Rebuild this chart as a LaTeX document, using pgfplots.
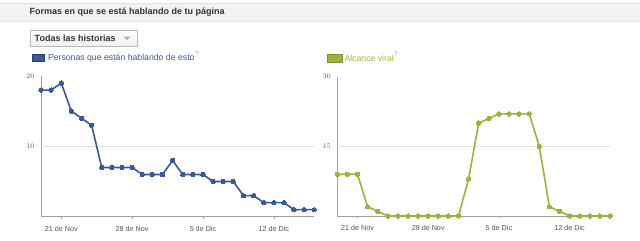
\documentclass[border=0pt]{standalone}
\usepackage{pgfplots}
\pgfplotsset{compat=1.18}
\usepackage{fontspec}
\setmainfont{Liberation Sans}
\definecolor{fbblue}{HTML}{3B5998}
\definecolor{fbgreen}{HTML}{9BB43F}
\definecolor{txtgray}{HTML}{333333}
\definecolor{tickgray}{HTML}{555555}
\definecolor{axgray}{HTML}{A0A0A0}
\definecolor{gridgray}{HTML}{E2E2E2}
\definecolor{bandgray}{HTML}{F2F2F2}
\pgfplotstableread{
x y
0 18
1 18
2 19
3 15
4 14
5 13
6 7
7 7
8 7
9 7
10 6
11 6
12 6
13 8
14 6
15 6
16 6
17 5
18 5
19 5
20 3
21 3
22 2
23 2
24 2
25 1
26 1
27 1
}\personas
\pgfplotstableread{
x y
0 9
1 9
2 9
3 2
4 1
5 0
6 0
7 0
8 0
9 0
10 0
11 0
12 0
13 8
14 20
15 21
16 22
17 22
18 22
19 22
20 15
21 2
22 1
23 0
24 0
25 0
26 0
27 0
}\alcance
\pgfplotsset{
  fbaxis/.style={
    scale only axis, clip=false,
    xmin=0, xmax=27, ymin=0,
    axis lines*=left,
    axis line style={axgray, line width=0.8pt},
    xtick={2,9,16,23},
    xticklabels={21 de Nov,28 de Nov,5 de Dic,12 de Dic},
    x tick label style={font=\fontsize{7.2}{8}\selectfont, text=tickgray, yshift=-4pt},
    y tick label style={font=\fontsize{7}{8}\selectfont, text=tickgray, xshift=-1pt},
    xtick style={draw=axgray, line width=0.6pt},
    tick align=outside, major tick length=2pt,
    ytick style={draw=none},
    extra y tick style={grid=major, major grid style={gridgray, line width=0.8pt}},
  }
}
\begin{document}
\begin{tikzpicture}[x=1pt,y=1pt]
\useasboundingbox[fill=white] (0,0) rectangle (640,241);
% header band
\fill[bandgray] (0,220) rectangle (640,238);
\draw[gray!25, line width=0.6pt] (0,238) -- (640,238);
\draw[gray!18, line width=0.6pt] (0,220) -- (640,220);
\node[anchor=west, inner sep=0, text=txtgray, font=\fontsize{9}{11}\selectfont\bfseries] at (29.5,228.5) {Formas en que se está hablando de tu página};
% dropdown button
\shade[top color=white, bottom color=gray!12] (30,194.3) rectangle (137,211);
\draw[gray!55, line width=0.7pt] (30,194.3) rectangle (137,211);
\node[anchor=west, inner sep=0, text=txtgray, font=\fontsize{9}{11}\selectfont\bfseries] at (34.5,202.5) {Todas las historias};
\fill[gray!60] (123.5,204.3) -- (130.5,204.3) -- (127,200.8) -- cycle;
% legends
\fill[fbblue] (32.3,179.3) rectangle (44.3,186.7);
\draw[fbblue!70!black, line width=0.4pt] (32.3,179.3) rectangle (44.3,186.7);
\node[anchor=west, inner sep=0, text=fbblue, font=\fontsize{8.7}{10}\selectfont] at (47.8,182.8) {Personas que están hablando de esto};
\node[anchor=west, inner sep=0, text=gray!70, font=\fontsize{7}{8}\selectfont] at (195,186.5) {?};
\fill[fbgreen] (327.3,178.3) rectangle (341.7,187);
\draw[fbgreen!80!black, line width=0.4pt] (327.3,178.3) rectangle (341.7,187);
\node[anchor=west, inner sep=0, text=fbgreen, font=\fontsize{8.7}{10}\selectfont] at (344.3,182.3) {Alcance viral};
\node[anchor=west, inner sep=0, text=gray!70, font=\fontsize{7}{8}\selectfont] at (393.5,186.5) {?};
% left chart
\begin{axis}[fbaxis, at={(41pt,24.3pt)}, anchor=south west,
  width=273.3pt, height=140.7pt, ymax=20,
  ytick={20}, extra y ticks={10}]
\addplot[fbblue, line width=1.6pt, mark=*, mark size=2.2pt, mark options={fill=fbblue, draw=fbblue, line width=0pt}] table[x=x,y=y] {\personas};
\end{axis}
% right chart
\begin{axis}[fbaxis, at={(337.3pt,25pt)}, anchor=south west,
  width=272.7pt, height=139.3pt, ymax=30,
  ytick={30}, extra y ticks={15}]
\addplot[fbgreen, line width=1.6pt, mark=*, mark size=2.2pt, mark options={fill=fbgreen, draw=fbgreen, line width=0pt}] table[x=x,y=y] {\alcance};
\end{axis}
\end{tikzpicture}
\end{document}
